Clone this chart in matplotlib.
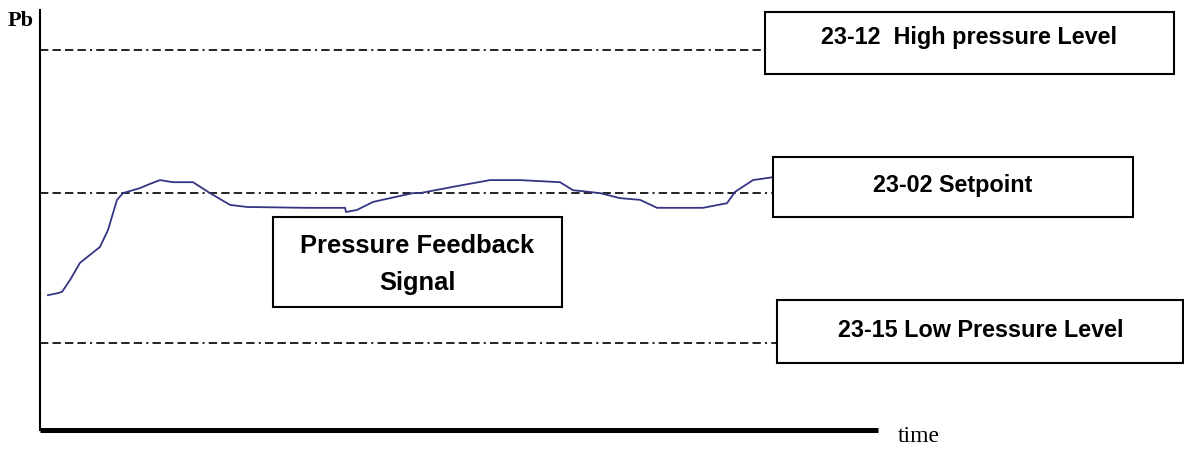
import matplotlib
matplotlib.use("Agg")
import matplotlib.pyplot as plt
from matplotlib.patches import Rectangle

plt.rcParams['lines.scale_dashes'] = False

# ---- data ----
time = [0.95, 2.15, 2.63, 3.58, 4.77, 5.97, 7.16, 8.11, 9.19, 9.90, 11.93, 13.13,
        14.32, 15.87, 18.26, 20.29, 22.67, 24.70, 31.86, 36.40, 36.52, 37.83,
        39.74, 41.77, 44.51, 45.35, 49.28, 53.70, 57.28, 62.05, 63.60, 66.83,
        69.21, 71.60, 73.63, 79.12, 81.98, 82.94, 85.08, 87.47]
pressure = [32.1, 32.6, 32.9, 35.7, 39.8, 41.7, 43.6, 47.6, 54.8, 56.4, 57.6, 58.6,
            59.5, 59.0, 59.0, 56.4, 53.6, 53.1, 52.9, 52.9, 51.9, 52.4,
            54.3, 55.2, 56.4, 56.4, 57.9, 59.5, 59.5, 59.0, 57.1, 56.4,
            55.2, 54.8, 52.9, 52.9, 54.0, 56.7, 59.5, 60.2]
high_level = 90.5
setpoint = 56.4
low_level = 20.7
high_end, set_end, low_end = 86.5, 87.5, 87.9

labels = ["23-12  High pressure Level", "23-02 Setpoint", "23-15 Low Pressure Level",
          "Pressure Feedback", "Signal"]

W, H = 1184, 449
fig = plt.figure(figsize=(W / 100, H / 100), dpi=100)
ax = fig.add_axes([40 / W, 19 / H, 838 / W, 420 / H])
ax.set_xlim(0, 100)
ax.set_ylim(0, 100)
for s in ('top', 'right'):
    ax.spines[s].set_visible(False)
ax.spines['left'].set_linewidth(1.5)
ax.spines['bottom'].set_linewidth(3.6)
ax.spines['bottom'].set_capstyle('butt')
ax.set_xticks([])
ax.set_yticks([])

dash = (0, (6, 3, 6, 3, 6, 3, 6, 3, 1.5, 3))
lc = '#222222'
ax.plot([0, high_end], [high_level, high_level], color=lc, lw=1.4, linestyle=dash, clip_on=False)
ax.plot([0, set_end], [setpoint, setpoint], color=lc, lw=1.4, linestyle=dash, clip_on=False)
ax.plot([0, low_end], [low_level, low_level], color=lc, lw=1.4, linestyle=dash, clip_on=False)

ax.plot(time, pressure, color='#353583', lw=1.3, clip_on=False, zorder=3)

boxes = [(86.5, 84.8, 135.3 - 86.5, 99.5 - 84.8),
         (87.5, 50.7, 130.4 - 87.5, 65.0 - 50.7),
         (87.9, 16.0, 136.4 - 87.9, 31.0 - 16.0),
         (27.8, 29.3, 62.3 - 27.8, 50.7 - 29.3)]
for (x0, y0, w, h) in boxes:
    ax.add_patch(Rectangle((x0, y0), w, h, facecolor='white', edgecolor='black',
                           lw=1.5, clip_on=False, zorder=4))

tk = dict(ha='center', va='baseline', fontweight='bold', family='Liberation Sans',
          zorder=5, clip_on=False)
ax.text(110.9, 91.8, labels[0], fontsize=16.8, **tk)
ax.text(108.9, 56.7, labels[1], fontsize=16.8, **tk)
ax.text(112.3, 22.2, labels[2], fontsize=16.8, **tk)
ax.text(45.0, 42.1, labels[3], fontsize=18.4, **tk)
ax.text(45.0, 33.3, labels[4], fontsize=18.4, **tk)

fig.text(21 / W, 1 - 21 / H, "Pb", ha='center', va='center', fontsize=16,
         family='Liberation Serif', fontweight='bold')
fig.text(919 / W, 1 - 437 / H, "time", ha='center', va='center', fontsize=17,
         family='Liberation Serif')

fig.savefig("out.png", dpi=100)
